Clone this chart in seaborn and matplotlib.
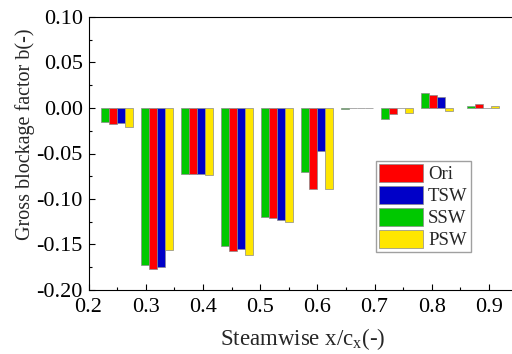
import matplotlib
matplotlib.use("Agg")
import matplotlib.pyplot as plt
import seaborn as sns
import pandas as pd
from matplotlib.ticker import MultipleLocator, FormatStrFormatter

# data
positions = [0.25, 0.32, 0.39, 0.46, 0.53, 0.60, 0.67, 0.74, 0.81, 0.89]
ori = [-0.018, -0.177, -0.073, -0.157, -0.121, -0.089, -0.0005, -0.0066, 0.0138, 0.004]
tsw = [-0.017, -0.175, -0.0725, -0.155, -0.123, -0.047, -0.0005, -0.0005, 0.0117, 0.0005]
ssw = [-0.015, -0.1725, -0.072, -0.152, -0.120, -0.0707, -0.001, -0.0117, 0.017, 0.002]
psw = [-0.021, -0.156, -0.074, -0.162, -0.125, -0.089, -0.0005, -0.0055, -0.0037, 0.0025]
series_names = ["Ori", "TSW", "SSW", "PSW"]
bar_order = ["SSW", "Ori", "TSW", "PSW"]
colors = {"Ori": "#ff0000", "TSW": "#0000c8", "SSW": "#00c800", "PSW": "#ffe600"}
xticks = [0.2, 0.3, 0.4, 0.5, 0.6, 0.7, 0.8, 0.9]

rows = []
for name, vals in zip(series_names, [ori, tsw, ssw, psw]):
    for p, v in zip(positions, vals):
        rows.append({"x": p, "b": v, "series": name})
df = pd.DataFrame(rows)

sns.set_style("ticks")
plt.rcParams["font.family"] = ["Liberation Serif", "DejaVu Serif"]
plt.rcParams["mathtext.fontset"] = "custom"
plt.rcParams["mathtext.rm"] = "Liberation Serif"
plt.rcParams["mathtext.it"] = "Liberation Serif:italic"
plt.rcParams["axes.unicode_minus"] = False

fig = plt.figure(figsize=(5.12, 3.54), dpi=100)
ax = fig.add_axes([88.5 / 512, 64 / 354, 429 / 512, 273 / 354])

sns.barplot(data=df, x="x", y="b", hue="series", hue_order=bar_order,
            palette=colors, native_scale=True, saturation=1, width=0.8,
            edgecolor="#8a8a8a", linewidth=0.5, errorbar=None, ax=ax)

ax.set_xlim(0.2, 0.95)
ax.set_ylim(-0.20, 0.10)
ax.set_xticks(xticks)
ax.xaxis.set_major_formatter(FormatStrFormatter("%.1f"))
ax.xaxis.set_minor_locator(MultipleLocator(0.05))
ax.yaxis.set_major_locator(MultipleLocator(0.05))
ax.yaxis.set_minor_locator(MultipleLocator(0.025))
ax.yaxis.set_major_formatter(FormatStrFormatter("%.2f"))
ax.tick_params(which="both", direction="in", labelsize=16, colors="black")
ax.tick_params(which="major", length=4, width=0.8)
ax.tick_params(which="minor", length=2, width=0.8)
ax.tick_params(axis="x", which="major", pad=6)
ax.tick_params(axis="y", which="major", pad=4)
for s in ax.spines.values():
    s.set_color("black")
    s.set_linewidth(0.8)

ax.set_xlabel("Steamwise x/c$_\\mathrm{x}$(-)", fontsize=16.5, va="center")
ax.set_ylabel("Gross blockage factor b(-)", fontsize=14.5)
ax.yaxis.set_label_coords(-0.125, 0.57, transform=ax.transAxes)
ax.xaxis.set_label_coords(303 / 512, 1 - 339 / 354, transform=fig.transFigure)

handles, labels = ax.get_legend_handles_labels()
hmap = dict(zip(labels, handles))
ax.legend([hmap[n] for n in series_names], series_names,
          loc="upper left", bbox_to_anchor=(376 / 512, 1 - 161 / 354),
          bbox_transform=fig.transFigure, fontsize=13.5,
          handlelength=2.35, handleheight=1.15, handletextpad=0.28,
          labelspacing=0.12, borderpad=0.15, borderaxespad=0,
          frameon=True, fancybox=False, edgecolor="#888888")

fig.savefig("out.png", dpi=100)
